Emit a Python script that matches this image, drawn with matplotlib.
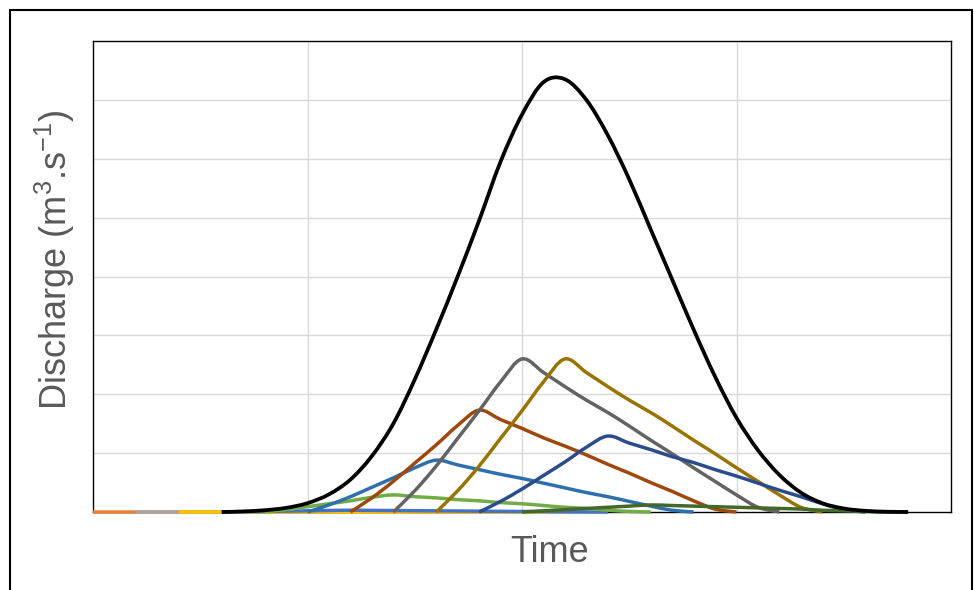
import matplotlib.pyplot as plt
from matplotlib.path import Path
from matplotlib.patches import PathPatch, Rectangle

plt.rcParams['font.family'] = ['Liberation Sans', 'DejaVu Sans']
plt.rcParams['mathtext.fontset'] = 'custom'
plt.rcParams['mathtext.rm'] = 'Liberation Sans'
plt.rcParams['mathtext.default'] = 'regular'

# Sub-hydrographs: start time and ordinates at unit steps after the start
starts = [0, 2, 4, 6, 8, 10, 12, 14, 16, 18, 20]
colors = ['#ED7D31', '#A5A5A5', '#FFC000', '#4472C4', '#70AD47', '#2E70AC',
          '#9E480E', '#636363', '#997300', '#2B4C8C', '#43682B']
zeros = [0.0] * 19
sub_a = [0, .004, .009, .014, .02, .026, .03, .027, .025, .022, .02, .017, .014, .011, .009, .006, .003, .001, 0]
sub_b = [0, .04, .09, .14, .19, .25, .29, .26, .24, .21, .19, .16, .14, .11, .08, .06, .03, .01, 0]
sub_c = [0, .12, .26, .42, .58, .75, .88, .80, .72, .64, .57, .49, .41, .33, .26, .18, .10, .03, 0]
sub_d = [0, .24, .52, .83, 1.14, 1.47, 1.73, 1.57, 1.42, 1.26, 1.12, .97, .81, .66, .50, .35, .19, .05, 0]
sub_e = [0, .36, .78, 1.25, 1.72, 2.21, 2.6, 2.37, 2.13, 1.90, 1.69, 1.46, 1.22, .99, .75, .52, .29, .08, 0]
sub_f = [0, .36, .78, 1.25, 1.72, 2.21, 2.6, 2.37, 2.13, 1.90, 1.69, 1.46, 1.22, .99, .75, .52, .29, .08, 0]
sub_g = [0, .18, .39, .62, .85, 1.10, 1.29, 1.17, 1.06, .94, .84, .72, .61, .49, .37, .26, .14, .04, 0]
sub_h = [0, .02, .04, .06, .08, .10, .12, .11, .10, .09, .08, .07, .06, .05, .03, .02, .01, 0, 0]
subs = [zeros, zeros, zeros, sub_a, sub_b, sub_c, sub_d, sub_e, sub_f, sub_g, sub_h]

# Total hydrograph, t = 6 .. 38
total_start = 6
total = [0, 0.01, 0.03, 0.07, 0.15, 0.3, 0.55, 0.95, 1.5, 2.25, 3.1, 4.0, 4.95,
         5.95, 6.75, 7.3, 7.35, 7.0, 6.4, 5.65, 4.8, 3.95, 3.1, 2.3, 1.6, 1.05,
         0.63, 0.33, 0.15, 0.06, 0.02, 0.005, 0]


def smooth_path(xs, ys):
    # bezier curve through the points, like a spreadsheet "smoothed line"
    pts = list(zip(xs, ys))
    verts = [pts[0]]
    codes = [Path.MOVETO]
    n = len(pts)
    for i in range(n - 1):
        p0 = pts[max(i - 1, 0)]
        p1 = pts[i]
        p2 = pts[i + 1]
        p3 = pts[min(i + 2, n - 1)]
        c1 = (p1[0] + (p2[0] - p0[0]) / 6, p1[1] + (p2[1] - p0[1]) / 6)
        c2 = (p2[0] - (p3[0] - p1[0]) / 6, p2[1] - (p3[1] - p1[1]) / 6)
        verts += [c1, c2, p2]
        codes += [Path.CURVE4] * 3
    return Path(verts, codes)


fig = plt.figure(figsize=(9.74, 5.9), dpi=100)
ax = fig.add_axes([93 / 974, 78 / 590, 858 / 974, 471 / 590])

for s, vals, c in zip(starts, subs, colors):
    xs = [s + k for k in range(len(vals))]
    ax.add_patch(PathPatch(smooth_path(xs, vals), fill=False, edgecolor=c,
                           lw=2.5, capstyle='butt', zorder=3, clip_on=False))

xs = [total_start + k for k in range(len(total))]
ax.add_patch(PathPatch(smooth_path(xs, total), fill=False, edgecolor='black',
                       lw=2.7, zorder=4, clip_on=False))

ax.set_xlim(0, 40)
ax.set_ylim(0, 8)
ax.set_xticks([10, 20, 30])
ax.set_yticks(range(1, 8))
ax.tick_params(length=0, labelbottom=False, labelleft=False)
ax.grid(True, color='#D9D9D9', lw=1.0)
ax.set_axisbelow(True)
for sp in ax.spines.values():
    sp.set_color('black')
    sp.set_linewidth(1.0)

ax.set_xlabel('Time', fontsize=26, color='#595959', va='center')
ax.xaxis.set_label_coords(457 / 858, -41 / 471)
ax.set_ylabel('Discharge (m$^3$.s$^{-1}$)', fontsize=26, color='#595959', va='center')
ax.yaxis.set_label_coords(-38 / 858, 252 / 471)

# outer chart border
fig.add_artist(Rectangle((10 / 974, -0.05), 962 / 974, 1.05 - 10 / 590, transform=fig.transFigure,
                         fill=False, edgecolor='black', lw=1.5))

fig.savefig('out.png', dpi=100)
